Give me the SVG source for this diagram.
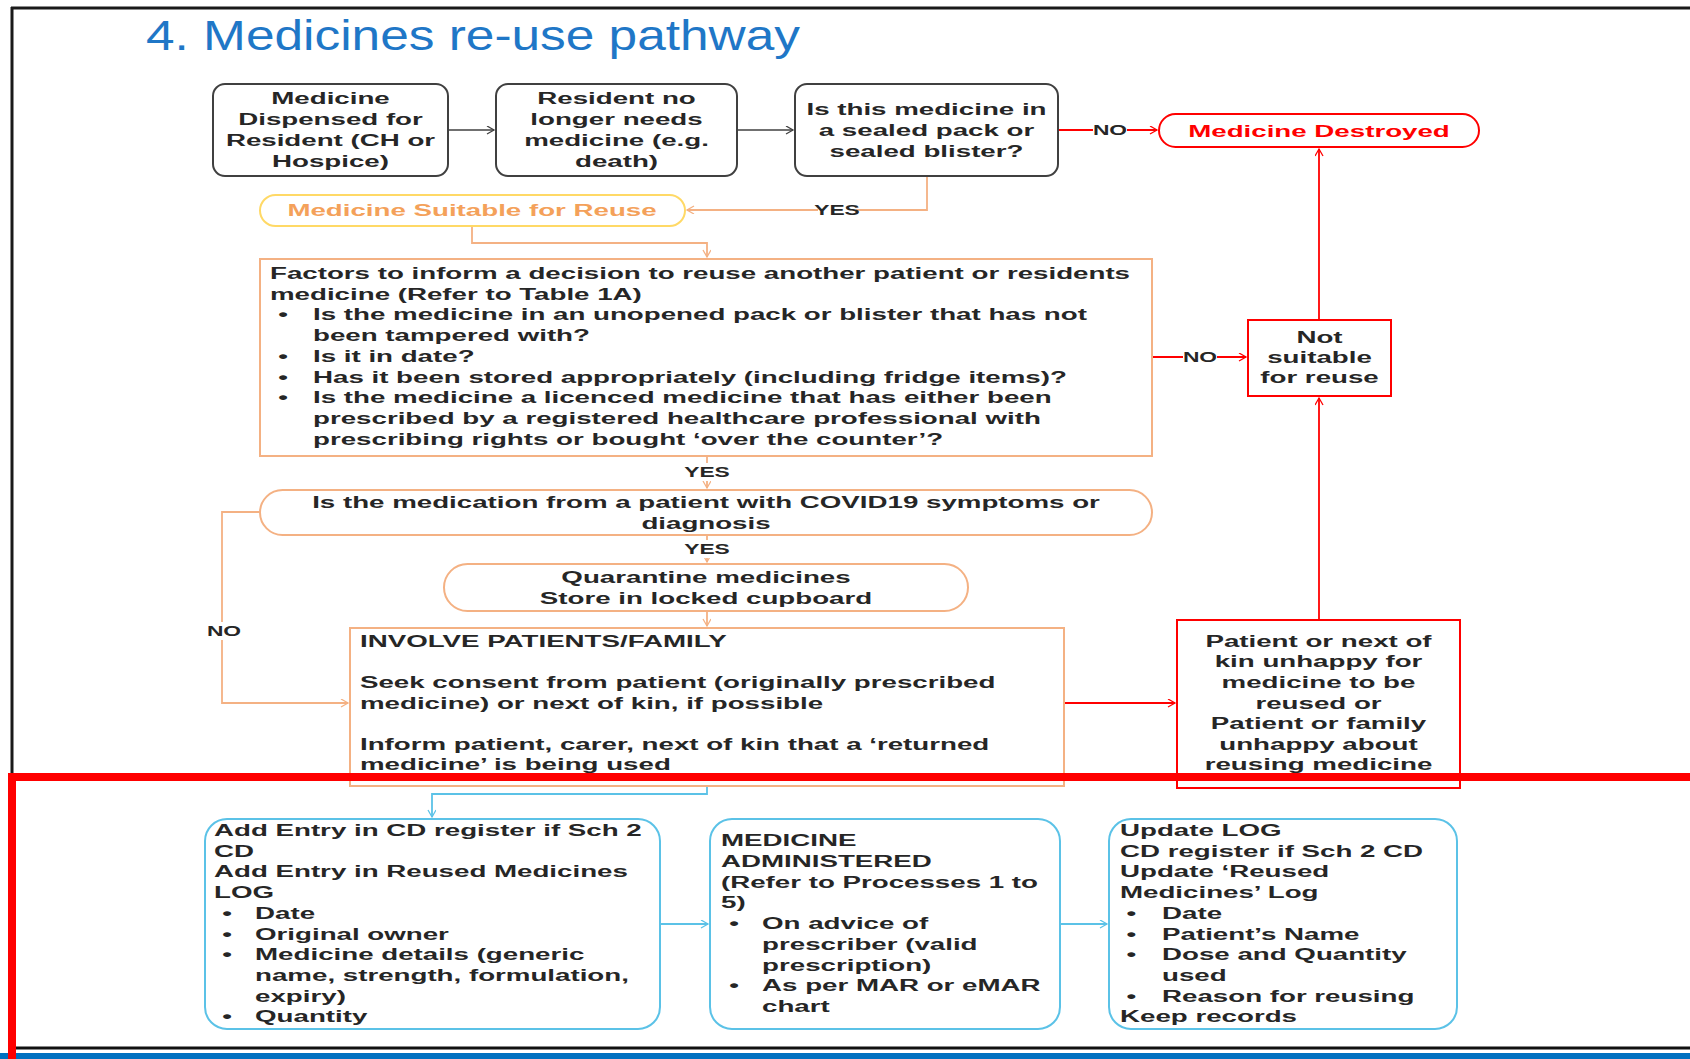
<svg xmlns="http://www.w3.org/2000/svg" width="1690" height="1059" viewBox="0 0 1690 1059">
<style>
.t{font-family:"Liberation Sans",Arial,sans-serif;font-size:17px;font-weight:bold;fill:#262626}
.c{text-anchor:middle}
.lbl{font-family:"Liberation Sans",Arial,sans-serif;font-size:14px;font-weight:bold;fill:#262626;text-anchor:middle}
.bk{fill:#fff;stroke:#404040;stroke-width:2}
.or{fill:#fff;stroke:#F4B183;stroke-width:2}
.rd{fill:#fff;stroke:#FF0000;stroke-width:2}
.bl{fill:#fff;stroke:#5BC2E7;stroke-width:2}
.lk{fill:none;stroke:#404040;stroke-width:1.5}
.lo{fill:none;stroke:#F4B183;stroke-width:1.8}
.lr{fill:none;stroke:#FF0000;stroke-width:1.8}
.lb{fill:none;stroke:#5BC2E7;stroke-width:1.8}
</style>
<defs>
<marker id="ak" markerUnits="userSpaceOnUse" markerWidth="10" markerHeight="10" refX="8" refY="4" orient="auto"><path d="M1,0 L8,4 L1,8" fill="none" stroke="#404040" stroke-width="1.3"/></marker>
<marker id="ao" markerUnits="userSpaceOnUse" markerWidth="10" markerHeight="10" refX="8" refY="4" orient="auto"><path d="M1,0 L8,4 L1,8" fill="none" stroke="#F4B183" stroke-width="1.3"/></marker>
<marker id="ar" markerUnits="userSpaceOnUse" markerWidth="10" markerHeight="10" refX="8" refY="4" orient="auto"><path d="M1,0 L8,4 L1,8" fill="none" stroke="#FF0000" stroke-width="1.3"/></marker>
<marker id="ab" markerUnits="userSpaceOnUse" markerWidth="10" markerHeight="10" refX="8" refY="4" orient="auto"><path d="M1,0 L8,4 L1,8" fill="none" stroke="#5BC2E7" stroke-width="1.3"/></marker>
</defs>
<rect width="1690" height="1059" fill="#fff"/>
<g id="frame">
<line x1="11" y1="8" x2="1690" y2="8" stroke="#1a1a1a" stroke-width="3"/>
<line x1="12" y1="7" x2="12" y2="1050" stroke="#1a1a1a" stroke-width="3"/>
<line x1="12" y1="1048" x2="1690" y2="1048" stroke="#111" stroke-width="3"/>
<rect x="0" y="1053" width="1690" height="6" fill="#0070C0"/>
</g>
<text id="title" x="146" y="50" font-family="Liberation Sans, Arial, sans-serif" font-size="42" fill="#1F77C7" textLength="654" lengthAdjust="spacingAndGlyphs">4. Medicines re-use pathway</text>

<g id="connectors">
<line class="lk" x1="448" y1="130" x2="494" y2="130" marker-end="url(#ak)"/>
<line class="lk" x1="737" y1="130" x2="793" y2="130" marker-end="url(#ak)"/>
<line class="lr" x1="1058" y1="130" x2="1157" y2="130" marker-end="url(#ar)"/>
<path class="lo" d="M927,176 V210 H687" marker-end="url(#ao)"/>
<path class="lo" d="M472,226 V243 H707 V257" marker-end="url(#ao)"/>
<line class="lr" x1="1152" y1="357" x2="1246" y2="357" marker-end="url(#ar)"/>
<line class="lr" x1="1319" y1="320" x2="1319" y2="149" marker-end="url(#ar)"/>
<line class="lr" x1="1319" y1="620" x2="1319" y2="398" marker-end="url(#ar)"/>
<line class="lo" x1="707" y1="456" x2="707" y2="488" marker-end="url(#ao)"/>
<line class="lo" x1="707" y1="535" x2="707" y2="562" marker-end="url(#ao)"/>
<line class="lo" x1="707" y1="611" x2="707" y2="626" marker-end="url(#ao)"/>
<path class="lo" d="M260,512 H222 V703 H348" marker-end="url(#ao)"/>
<line class="lr" x1="1064" y1="703" x2="1175" y2="703" marker-end="url(#ar)"/>
<path class="lb" d="M707,782 V794 H432 V817" marker-end="url(#ab)"/>
<line class="lb" x1="660" y1="924" x2="708" y2="924" marker-end="url(#ab)"/>
<line class="lb" x1="1060" y1="924" x2="1107" y2="924" marker-end="url(#ab)"/>
<g id="labels">
<rect x="1093" y="121" width="34" height="18" fill="#fff"/>
<text class="lbl" transform="matrix(1.63 0 0 1 1110 0)" x="0" y="135">NO</text>
<rect x="818" y="201" width="38" height="18" fill="#fff"/>
<text class="lbl" transform="matrix(1.63 0 0 1 837 0)" x="0" y="215">YES</text>
<rect x="1183" y="348" width="34" height="18" fill="#fff"/>
<text class="lbl" transform="matrix(1.63 0 0 1 1200 0)" x="0" y="362">NO</text>
<rect x="688" y="463" width="38" height="18" fill="#fff"/>
<text class="lbl" transform="matrix(1.63 0 0 1 707 0)" x="0" y="477">YES</text>
<rect x="688" y="540" width="38" height="18" fill="#fff"/>
<text class="lbl" transform="matrix(1.63 0 0 1 707 0)" x="0" y="554">YES</text>
<rect x="206" y="622" width="34" height="18" fill="#fff"/>
<text class="lbl" transform="matrix(1.63 0 0 1 224 0)" x="0" y="636">NO</text>
</g>
</g>

<g id="n-dispensed">
<rect class="bk" x="213" y="84" width="235" height="92" rx="12"/>
<text class="t c" transform="matrix(1.63 0 0 1 330.5 0)"><tspan x="0" y="104.5">Medicine</tspan><tspan x="0" y="125.5">Dispensed for</tspan><tspan x="0" y="146.5">Resident (CH or</tspan><tspan x="0" y="167.5">Hospice)</tspan></text>
</g>
<g id="n-noneed">
<rect class="bk" x="496" y="84" width="241" height="92" rx="12"/>
<text class="t c" transform="matrix(1.63 0 0 1 616.5 0)"><tspan x="0" y="104.5">Resident no</tspan><tspan x="0" y="125.5">longer needs</tspan><tspan x="0" y="146.5">medicine (e.g.</tspan><tspan x="0" y="167.5">death)</tspan></text>
</g>
<g id="n-sealed">
<rect class="bk" x="795" y="84" width="263" height="92" rx="12"/>
<text class="t c" transform="matrix(1.63 0 0 1 926.5 0)"><tspan x="0" y="115">Is this medicine in</tspan><tspan x="0" y="136">a sealed pack or</tspan><tspan x="0" y="157">sealed blister?</tspan></text>
</g>
<g id="n-destroyed">
<rect class="rd" x="1159" y="114" width="320" height="33" rx="16.5"/>
<text class="t c" transform="matrix(1.63 0 0 1 1319 0)" x="0" y="137" style="fill:#FF0000">Medicine Destroyed</text>
</g>
<g id="n-suitable">
<rect x="260" y="195" width="425" height="31" rx="15.5" fill="#fff" stroke="#FFD966" stroke-width="2"/>
<text class="t c" transform="matrix(1.63 0 0 1 472 0)" x="0" y="216" style="fill:#F4A15A">Medicine Suitable for Reuse</text>
</g>
<g id="n-factors">
<rect class="or" x="260" y="259" width="892" height="197"/>
<text class="t" transform="matrix(1.63 0 0 1 270 0)">
<tspan x="0" y="279">Factors to inform a decision to reuse another patient or residents</tspan>
<tspan x="0" y="300">medicine (Refer to Table 1A)</tspan>
<tspan x="5" y="320.5">•</tspan><tspan x="26.4" y="320.5">Is the medicine in an unopened pack or blister that has not</tspan>
<tspan x="26.4" y="341">been tampered with?</tspan>
<tspan x="5" y="362">•</tspan><tspan x="26.4" y="362">Is it in date?</tspan>
<tspan x="5" y="383">•</tspan><tspan x="26.4" y="383">Has it been stored appropriately (including fridge items)?</tspan>
<tspan x="5" y="403.5">•</tspan><tspan x="26.4" y="403.5">Is the medicine a licenced medicine that has either been</tspan>
<tspan x="26.4" y="424">prescribed by a registered healthcare professional with</tspan>
<tspan x="26.4" y="445">prescribing rights or bought ‘over the counter’?</tspan>
</text>
</g>
<g id="n-notsuitable">
<rect class="rd" x="1248" y="320" width="143" height="76"/>
<text class="t c" transform="matrix(1.63 0 0 1 1319.5 0)"><tspan x="0" y="343">Not</tspan><tspan x="0" y="363">suitable</tspan><tspan x="0" y="383">for reuse</tspan></text>
</g>
<g id="n-covid">
<rect class="or" x="260" y="490" width="892" height="45" rx="22.5"/>
<text class="t c" transform="matrix(1.63 0 0 1 706 0)"><tspan x="0" y="508">Is the medication from a patient with COVID19 symptoms or</tspan><tspan x="0" y="529">diagnosis</tspan></text>
</g>
<g id="n-quarantine">
<rect class="or" x="444" y="564" width="524" height="47" rx="23.5"/>
<text class="t c" transform="matrix(1.63 0 0 1 706 0)"><tspan x="0" y="583">Quarantine medicines</tspan><tspan x="0" y="604">Store in locked cupboard</tspan></text>
</g>
<g id="n-involve">
<rect class="or" x="350" y="628" width="714" height="158"/>
<text class="t" transform="matrix(1.63 0 0 1 360 0)">
<tspan x="0" y="647">INVOLVE PATIENTS/FAMILY</tspan>
<tspan x="0" y="688">Seek consent from patient (originally prescribed</tspan>
<tspan x="0" y="709">medicine) or next of kin, if possible</tspan>
<tspan x="0" y="750">Inform patient, carer, next of kin that a ‘returned</tspan>
<tspan x="0" y="770">medicine’ is being used</tspan>
</text>
</g>
<g id="n-unhappy">
<rect class="rd" x="1177" y="620" width="283" height="168"/>
<text class="t c" transform="matrix(1.63 0 0 1 1318.5 0)"><tspan x="0" y="647">Patient or next of</tspan><tspan x="0" y="667.5">kin unhappy for</tspan><tspan x="0" y="688">medicine to be</tspan><tspan x="0" y="709">reused or</tspan><tspan x="0" y="729.5">Patient or family</tspan><tspan x="0" y="750">unhappy about</tspan><tspan x="0" y="770.5">reusing medicine</tspan></text>
</g>
<g id="n-addentry">
<rect class="bl" x="205" y="819" width="455" height="210" rx="22"/>
<text class="t" transform="matrix(1.63 0 0 1 214 0)">
<tspan x="0" y="836">Add Entry in CD register if Sch 2</tspan>
<tspan x="0" y="857">CD</tspan>
<tspan x="0" y="877.5">Add Entry in Reused Medicines</tspan>
<tspan x="0" y="898">LOG</tspan>
<tspan x="5" y="919">•</tspan><tspan x="25.2" y="919">Date</tspan>
<tspan x="5" y="940">•</tspan><tspan x="25.2" y="940">Original owner</tspan>
<tspan x="5" y="960.5">•</tspan><tspan x="25.2" y="960.5">Medicine details (generic</tspan>
<tspan x="25.2" y="981">name, strength, formulation,</tspan>
<tspan x="25.2" y="1002">expiry)</tspan>
<tspan x="5" y="1022">•</tspan><tspan x="25.2" y="1022">Quantity</tspan>
</text>
</g>
<g id="n-administered">
<rect class="bl" x="710" y="819" width="350" height="210" rx="22"/>
<text class="t" transform="matrix(1.63 0 0 1 721 0)">
<tspan x="0" y="846">MEDICINE</tspan>
<tspan x="0" y="867">ADMINISTERED</tspan>
<tspan x="0" y="888">(Refer to Processes 1 to</tspan>
<tspan x="0" y="908">5)</tspan>
<tspan x="5" y="929">•</tspan><tspan x="25.2" y="929">On advice of</tspan>
<tspan x="25.2" y="950">prescriber (valid</tspan>
<tspan x="25.2" y="971">prescription)</tspan>
<tspan x="5" y="991">•</tspan><tspan x="25.2" y="991">As per MAR or eMAR</tspan>
<tspan x="25.2" y="1012">chart</tspan>
</text>
</g>
<g id="n-updatelog">
<rect class="bl" x="1109" y="819" width="348" height="210" rx="22"/>
<text class="t" transform="matrix(1.63 0 0 1 1120 0)">
<tspan x="0" y="836">Update LOG</tspan>
<tspan x="0" y="857">CD register if Sch 2 CD</tspan>
<tspan x="0" y="877.5">Update ‘Reused</tspan>
<tspan x="0" y="898">Medicines’ Log</tspan>
<tspan x="4" y="919">•</tspan><tspan x="25.8" y="919">Date</tspan>
<tspan x="4" y="940">•</tspan><tspan x="25.8" y="940">Patient’s Name</tspan>
<tspan x="4" y="960.5">•</tspan><tspan x="25.8" y="960.5">Dose and Quantity</tspan>
<tspan x="25.8" y="981">used</tspan>
<tspan x="4" y="1002">•</tspan><tspan x="25.8" y="1002">Reason for reusing</tspan>
<tspan x="0" y="1022">Keep records</tspan>
</text>
</g>
<rect id="highlight" x="12" y="777" width="1700" height="320" fill="none" stroke="#FF0000" stroke-width="8"/>
</svg>
